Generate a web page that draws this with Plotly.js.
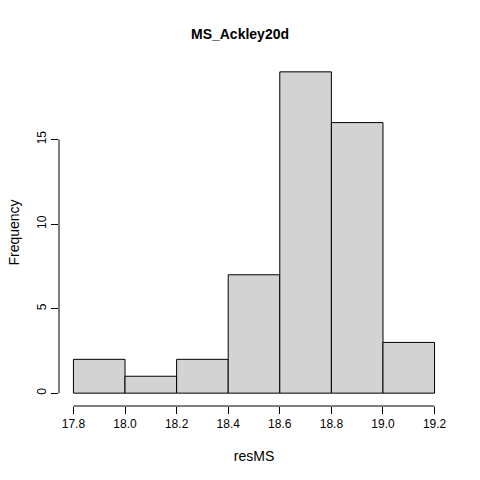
<!DOCTYPE html>
<html>
<head>
<script src="https://cdn.plot.ly/plotly-3.0.1.min.js"></script>
<style>body{margin:0}</style>
</head>
<body>
<div id="plot" style="width:480px;height:480px"></div>
<script>
const binStarts = [17.8, 18.0, 18.2, 18.4, 18.6, 18.8, 19.0];
const binWidth = 0.2;
const counts = [2, 1, 2, 7, 19, 16, 3];
const xTicks = [17.8, 18.0, 18.2, 18.4, 18.6, 18.8, 19.0, 19.2];
const yTicks = [0, 5, 10, 15];

const font = { family: 'Liberation Sans, Arial, sans-serif', size: 12, color: '#000' };

const trace = {
	type: 'bar',
	x: binStarts.map(s => s + binWidth / 2),
	y: counts,
	width: binWidth,
	marker: { color: '#d3d3d3', line: { color: '#000', width: 1 } },
	hoverinfo: 'x+y'
};

const layout = {
	width: 480, height: 480,
	margin: { l: 58.5, r: 30.5, t: 58.5, b: 74 },
	paper_bgcolor: '#fff', plot_bgcolor: '#fff',
	font: font,
	showlegend: false,
	title: { text: '<b>MS_Ackley20d</b>', x: 0.5, y: 0.94, font: { size: 14, family: font.family } },
	xaxis: {
		range: [17.744, 19.256],
		tickvals: xTicks, ticktext: xTicks.map(v => v.toFixed(1)),
		ticks: 'outside', ticklen: 7, tickcolor: '#000',
		showgrid: false, zeroline: false, showline: false,
		title: { text: 'resMS', standoff: 20 }
	},
	yaxis: {
		range: [-0.76, 19.76],
		tickvals: yTicks, tickangle: -90,
		ticks: 'outside', ticklen: 7, tickcolor: '#000',
		showgrid: false, zeroline: false, showline: false,
		title: { text: 'Frequency', standoff: 12 }
	},
	shapes: [
		{ type: 'line', xref: 'x', yref: 'paper', x0: xTicks[0], x1: xTicks[xTicks.length - 1], y0: 0, y1: 0, line: { color: '#000', width: 1 } },
		{ type: 'line', xref: 'paper', yref: 'y', x0: 0, x1: 0, y0: yTicks[0], y1: yTicks[yTicks.length - 1], line: { color: '#000', width: 1 } }
	]
};

Plotly.newPlot('plot', [trace], layout, { displayModeBar: false, staticPlot: true });
</script>
</body>
</html>
